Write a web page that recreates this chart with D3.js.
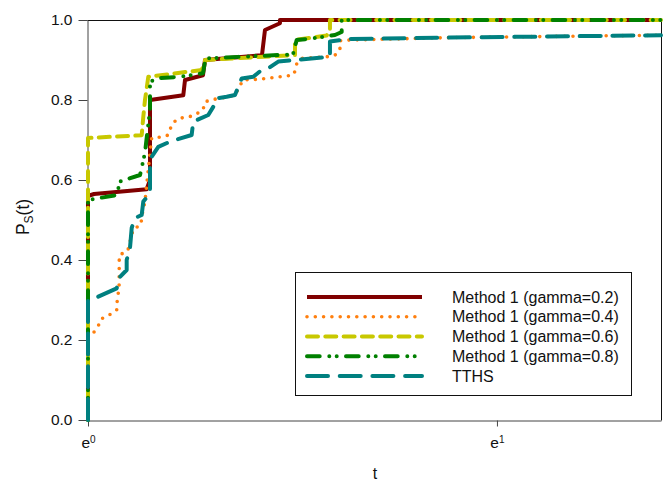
<!DOCTYPE html>
<html>
<head>
<meta charset="utf-8">
<script src="https://cdn.jsdelivr.net/npm/d3@7"></script>
<style>
body { margin: 0; background: #fff; }
text { font-family: "Liberation Sans", Arial, sans-serif; }
</style>
</head>
<body>
<svg width="663" height="481"></svg>
<script>
// curves: [t, Ps(t)]
var gamma02 = [[1,0],[1,0.56],[1.0148,0.565],[1.1543,0.577],[1.1637,0.60],[1.1637,0.80],[1.2624,0.812],[1.2677,0.85],[1.3247,0.862],[1.3312,0.90],[1.5302,0.912],[1.5415,0.975],[1.5990,0.992],[1.5990,1],[4.06,1]];
var gamma04 = [[1,0],[1,0.21],[1.0148,0.22],[1.0255,0.235],[1.0316,0.252],[1.0527,0.262],[1.0727,0.275],[1.0735,0.293],[1.0790,0.333],[1.0795,0.4125],[1.1019,0.4225],[1.1171,0.4775],[1.1384,0.4875],[1.1403,0.5075],[1.1495,0.546],[1.1637,0.667],[1.1685,0.705],[1.1925,0.707],[1.216,0.712],[1.2271,0.737],[1.2422,0.752],[1.2677,0.757],[1.2927,0.76],[1.3247,0.775],[1.3312,0.795],[1.3476,0.80],[1.4037,0.807],[1.4325,0.812],[1.4608,0.85],[1.5227,0.852],[1.6508,0.862],[1.6630,0.877],[1.6658,0.89],[1.6862,0.904],[1.7924,0.908],[1.8292,0.912],[1.8517,0.925],[1.8517,0.948],[1.8977,0.95],[2.4232,0.956],[4.06,0.962]];
var gamma06 = [[1,0],[1,0.705],[1.1403,0.712],[1.1448,0.758],[1.1495,0.80],[1.1589,0.858],[1.3205,0.875],[1.3312,0.896],[1.3312,0.90],[1.6589,0.9125],[1.6589,0.95],[1.7924,0.961],[1.8070,0.975],[1.8070,1],[4.06,1]];
var gamma08 = [[1,0],[1,0.55],[1.0727,0.5625],[1.0814,0.596],[1.1356,0.6125],[1.1403,0.63],[1.1448,0.65],[1.1495,0.667],[1.1543,0.705],[1.1637,0.775],[1.1637,0.846],[1.1925,0.855],[1.2522,0.858],[1.3247,0.867],[1.3312,0.896],[1.3312,0.904],[1.6508,0.914],[1.6658,0.95],[1.7334,0.954],[1.8292,0.9625],[1.8595,0.97],[1.8595,1],[4.06,1]];
var tths = [[1,0],[1,0.30],[1.0222,0.307],[1.0727,0.329],[1.0769,0.35],[1.0814,0.358],[1.0992,0.375],[1.0992,0.40],[1.1081,0.43],[1.1128,0.48],[1.1218,0.505],[1.1403,0.5125],[1.1448,0.546],[1.1637,0.567],[1.1637,0.633],[1.1685,0.658],[1.1876,0.683],[1.2220,0.696],[1.2885,0.7125],[1.2936,0.746],[1.3420,0.7625],[1.3641,0.79],[1.3698,0.804],[1.4037,0.808],[1.4325,0.8125],[1.4562,0.854],[1.4980,0.858],[1.5291,0.875],[1.5605,0.882],[1.5925,0.896],[1.8070,0.908],[1.8070,0.946],[1.8823,0.9525],[2.4232,0.956],[4.06,0.962]];

var names = ["Method 1 (gamma=0.2)", "Method 1 (gamma=0.4)", "Method 1 (gamma=0.6)", "Method 1 (gamma=0.8)", "TTHS"];
var yTicks = [0, 0.2, 0.4, 0.6, 0.8, 1.0];
var xTicks = [1, Math.E];
var xTickLabels = ["0", "1"];

var series = [gamma02, gamma04, gamma06, gamma08, tths];
var colors = ["#800000", "#ff7f0e", "#c8c800", "#008000", "#008080"];
var dashes = [null, "0,8.3", "11,7.3", "12.7,9.6,0,7.4,0,9.3", "21,11.7"];
var widths = [4, 3.6, 4, 4, 4];

var svg = d3.select("svg");
var pLeft = 88, pRight = 661, pTop = 20, pBottom = 420;

var x = d3.scaleLog().base(Math.E).domain([1, 4.06]).range([pLeft, pRight]);
var y = d3.scaleLinear().domain([0, 1]).range([pBottom, pTop]);

svg.append("rect").attr("width", 663).attr("height", 481).attr("fill", "#fff");

// frame top and right
svg.append("path")
    .attr("d", "M" + (pLeft - 0.5) + "," + (pTop + 0.5) + "H" + (pRight + 0.5) + "V" + (pBottom + 0.5))
    .attr("fill", "none").attr("stroke", "#111").attr("stroke-width", 1);

// y axis
var gy = svg.append("g")
    .attr("transform", "translate(" + (pLeft - 0.5) + ",0)")
    .call(d3.axisLeft(y).tickValues(yTicks).tickFormat(d3.format(".1f")).tickSize(9).tickPadding(6).tickSizeOuter(0));
gy.selectAll("text").attr("font-size", "15.5px").attr("fill", "#111").style("font-family", "'Liberation Sans', Arial, sans-serif");
gy.selectAll("line, path").attr("stroke", "#444");

// x axis
var gx = svg.append("g")
    .attr("transform", "translate(0," + (pBottom + 0.5) + ")")
    .call(d3.axisBottom(x).tickValues(xTicks).tickFormat("").tickSize(6).tickSizeOuter(0));
gx.selectAll("line, path").attr("stroke", "#444");
gx.selectAll(".tick").append("text")
    .attr("y", 27).attr("fill", "#111").attr("text-anchor", "middle")
    .attr("font-size", "15.5px").style("font-family", "'Liberation Sans', Arial, sans-serif")
    .each(function(d, i) {
      var t = d3.select(this);
      t.append("tspan").text("e");
      t.append("tspan").attr("font-size", "10px").attr("dy", "-4.5").text(xTickLabels[i]);
    });

// axis titles
svg.append("text").attr("x", 375).attr("y", 479).attr("text-anchor", "middle")
    .attr("font-size", "16px").attr("fill", "#111").text("t");

var yl = svg.append("text")
    .attr("transform", "translate(29,217) rotate(-90)")
    .attr("text-anchor", "middle").attr("font-size", "17.5px").attr("fill", "#111");
yl.append("tspan").text("P");
yl.append("tspan").attr("font-size", "12px").attr("dy", "4").text("S");
yl.append("tspan").attr("dy", "-4").text("(t)");

// curves
var line = d3.line()
    .x(function(d) { return x(d[0]); })
    .y(function(d) { return y(d[1]); });

series.forEach(function(s, i) {
  svg.append("path")
      .datum(s)
      .attr("d", line)
      .attr("fill", "none")
      .attr("stroke", colors[i])
      .attr("stroke-width", widths[i])
      .attr("stroke-linecap", i === 0 ? "butt" : "round")
      .attr("stroke-linejoin", "round")
      .attr("stroke-dasharray", dashes[i]);
});

// legend
var lg = svg.append("g");
lg.append("rect")
    .attr("x", 295.5).attr("y", 272.5).attr("width", 336).attr("height", 123)
    .attr("fill", "#fff").attr("stroke", "#111").attr("stroke-width", 1);

var rowY = d3.scalePoint().domain(d3.range(names.length)).range([297, 376]);

names.forEach(function(n, i) {
  lg.append("line")
      .attr("x1", 307).attr("x2", 422)
      .attr("y1", rowY(i)).attr("y2", rowY(i))
      .attr("stroke", colors[i])
      .attr("stroke-width", widths[i])
      .attr("stroke-linecap", i === 0 ? "butt" : "round")
      .attr("stroke-dasharray", dashes[i]);
  lg.append("text")
      .attr("x", 452).attr("y", rowY(i) + 5.5)
      .attr("font-size", "16px").attr("fill", "#111")
      .text(n);
});
</script>
</body>
</html>
